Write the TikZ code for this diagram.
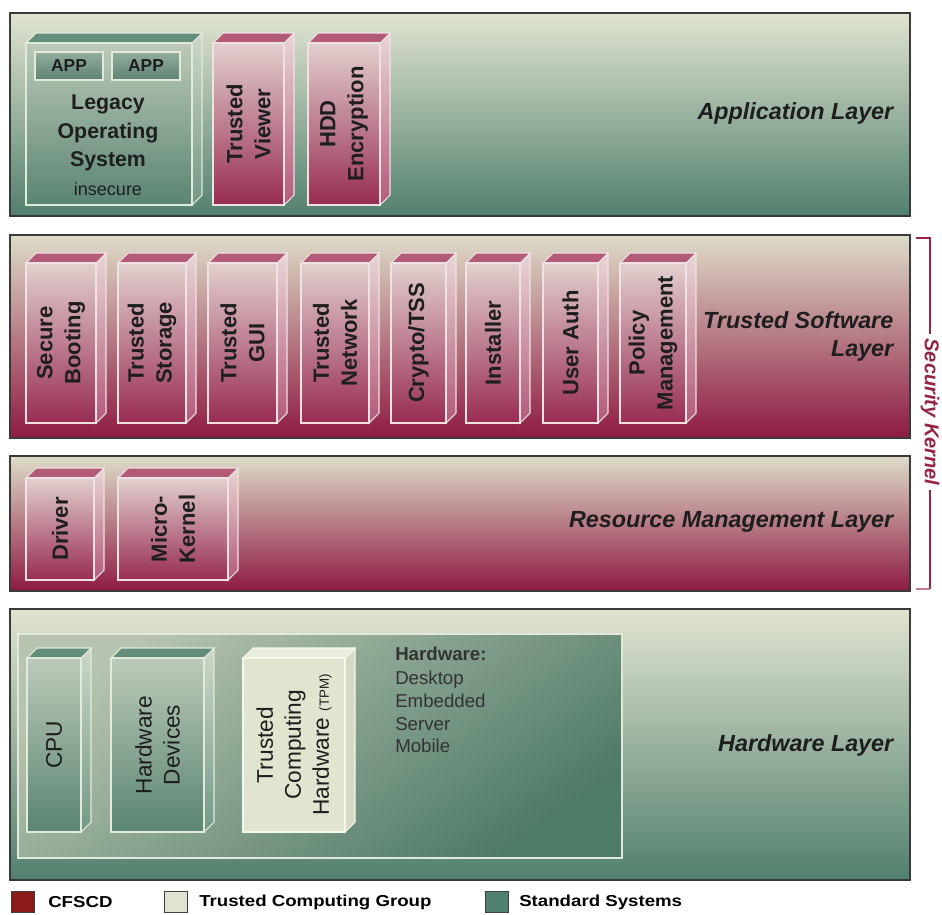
\documentclass[tikz,border=0pt]{standalone}
\usepackage{fontspec}
\setmainfont{Liberation Sans}
\definecolor{laydraw}{HTML}{3A3A3A}
\definecolor{glTop}{HTML}{E0E4D0}
\definecolor{glBot}{HTML}{52806E}
\definecolor{rlTop}{HTML}{DEDCC8}
\definecolor{rlBot}{HTML}{8E1A42}
\definecolor{rfTop}{HTML}{E2D0CE}
\definecolor{rfBot}{HTML}{982C52}
\definecolor{rTopFace}{HTML}{B25A76}
\definecolor{rsTop}{HTML}{E8D6D6}
\definecolor{rsBot}{HTML}{B4587A}
\definecolor{rEdge}{HTML}{F0E2E2}
\definecolor{gfTop}{HTML}{BCCAB8}
\definecolor{gfBot}{HTML}{5A8472}
\definecolor{gTopFace}{HTML}{628D7B}
\definecolor{gsTop}{HTML}{CCD8C8}
\definecolor{gsBot}{HTML}{739886}
\definecolor{gEdge}{HTML}{E2EADA}
\definecolor{tFront}{HTML}{E1E4CE}
\definecolor{tTopFace}{HTML}{EAEDDC}
\definecolor{tSide}{HTML}{D6DAC2}
\definecolor{tEdge}{HTML}{F6F8EE}
\definecolor{appTop}{HTML}{93AD9E}
\definecolor{appBot}{HTML}{5D8272}
\definecolor{innerTop}{HTML}{B6C4AF}
\definecolor{innerBot}{HTML}{4E7A68}
\definecolor{innerEdge}{HTML}{E2E8DA}
\definecolor{skred}{HTML}{962444}
\definecolor{sklight}{HTML}{C87A92}
\definecolor{txt}{HTML}{1E1E1E}
\definecolor{legred}{HTML}{8B1A1A}
\definecolor{leglight}{HTML}{DFE3CF}
\definecolor{leggreen}{HTML}{4F8070}
\newcommand\boxfont{\fontsize{16.5}{21}\selectfont\bfseries}
\newcommand\hwfont{\fontsize{17}{21}\selectfont}
\newcommand\tdcube[7]{%
  \path[#2side] (#5,#4) -- (#5+10,#4-10) -- (#5+10,#6-10) -- (#5,#6) -- cycle;
  \path[#2top] (#3,#4) -- (#3+10,#4-10) -- (#5+10,#4-10) -- (#5,#4) -- cycle;
  \path[#2front] (#3,#4) rectangle (#5,#6);
  \node[#2text] (#1) at ({(#3+#5)/2},{(#4+#6)/2}) {#7};
}
\tikzset{
  lay/.style={draw=laydraw, line width=1.5pt},
  greenlayer/.style={lay, top color=glTop, bottom color=glBot},
  redlayer/.style={lay, top color=rlTop, bottom color=rlBot},
  redfront/.style={draw=rEdge, line width=0.8pt, top color=rfTop, bottom color=rfBot},
  redtop/.style={draw=rEdge, line width=0.8pt, fill=rTopFace},
  redside/.style={draw=rEdge, line width=0.8pt, top color=rsTop, bottom color=rsBot},
  redtext/.style={rotate=90, align=center, font=\boxfont, text=txt},
  greenfront/.style={draw=gEdge, line width=0.8pt, top color=gfTop, bottom color=gfBot},
  greentop/.style={draw=gEdge, line width=0.8pt, fill=gTopFace},
  greenside/.style={draw=gEdge, line width=0.8pt, top color=gsTop, bottom color=gsBot},
  greentext/.style={rotate=90, align=center, font=\hwfont, text=txt},
  tcgfront/.style={draw=tEdge, line width=0.8pt, fill=tFront},
  tcgtop/.style={draw=tEdge, line width=0.8pt, fill=tTopFace},
  tcgside/.style={draw=tEdge, line width=0.8pt, fill=tSide},
  tcgtext/.style={rotate=90, align=center, font=\hwfont, text=txt},
  laylabel/.style={anchor=east, align=right, font=\fontsize{17.5}{21}\selectfont\bfseries\itshape, text=txt},
  appbox/.style={draw=gEdge, line width=1pt, top color=appTop, bottom color=appBot,
    minimum width=51pt, minimum height=21pt, inner sep=0pt, font=\fontsize{13}{15}\selectfont\bfseries, text=txt},
  skline/.style={draw=skred, line width=1.5pt},
  sklightline/.style={draw=sklight, line width=1.5pt},
  sktext/.style={rotate=-90, font=\fontsize{15}{18}\selectfont\bfseries\itshape, text=skred, inner sep=3pt},
  legsq/.style={draw=black!75, line width=1pt, minimum width=17pt, minimum height=16pt, inner sep=0pt},
  legtext/.style={anchor=west, font=\fontsize{14}{16}\selectfont\bfseries, text=black, inner sep=0pt},
}
\begin{document}
\begin{tikzpicture}[x=0.75pt,y=-0.75pt]
\useasboundingbox[fill=white] (0,0) rectangle (942,914);

% ---------- Application layer ----------
\path[greenlayer] (10,13) rectangle (910,216);
\tdcube{legacy}{green}{26}{43}{192}{205}{}
\node[appbox] (app1) at (69,66) {APP};
\node[appbox] (app2) at (146,66) {APP};
\node[font=\fontsize{16}{21.5}\selectfont\bfseries, align=center, text=txt] (legacytxt) at (108,133) {Legacy\\Operating\\System};
\node[font=\fontsize{13.5}{16}\selectfont, text=txt] (insecure) at (108,189) {insecure};
\tdcube{viewer}{red}{213}{43}{284}{205}{Trusted\\Viewer}
\tdcube{hdd}{red}{308}{43}{380}{205}{HDD\\Encryption}
\node[laylabel] (applabel) at (898,113) {Application Layer};

% ---------- Trusted software layer ----------
\path[redlayer] (10,235) rectangle (910,438);
\tdcube{secure}{red}{26}{263}{96}{423}{Secure\\Booting}
\tdcube{storage}{red}{118}{263}{186}{423}{Trusted\\Storage}
\tdcube{gui}{red}{208}{263}{277}{423}{Trusted\\GUI}
\tdcube{network}{red}{301}{263}{369}{423}{Trusted\\Network}
\tdcube{crypto}{red}{391}{263}{446}{423}{Crypto/TSS}
\tdcube{installer}{red}{466}{263}{520}{423}{Installer}
\tdcube{userauth}{red}{543}{263}{598}{423}{User Auth}
\tdcube{policy}{red}{620}{263}{686}{423}{Policy\\Management}
\node[laylabel] (tslabel) at (898,336) {Trusted Software\\Layer};

% ---------- Resource management layer ----------
\path[redlayer] (10,456) rectangle (910,591);
\tdcube{driver}{red}{26}{478}{94}{580}{Driver}
\tdcube{micro}{red}{118}{478}{228}{580}{Micro-\\Kernel}
\node[laylabel] (rmlabel) at (898,522) {Resource Management Layer};

% ---------- Hardware layer ----------
\path[greenlayer] (10,609) rectangle (910,880);
\path[draw=innerEdge, line width=1.5pt, top color=innerTop, bottom color=innerBot, shading angle=35] (18,634) rectangle (622,858);
\tdcube{cpu}{green}{27}{658}{81}{832}{CPU}
\tdcube{hwdev}{green}{111}{658}{204}{832}{Hardware\\Devices}
\tdcube{tch}{tcg}{243}{658}{345}{832}{Trusted\\Computing\\Hardware {\fontsize{10}{12}\selectfont(TPM)}}
\node[anchor=north west, align=left, font=\fontsize{14}{17}\selectfont, text=black!80, inner sep=0pt] (hwlist) at (395,647)
  {\textbf{Hardware:}\\[1pt]Desktop\\Embedded\\Server\\Mobile};
\node[laylabel] (hwlabel) at (898,745) {Hardware Layer};

% ---------- Security kernel bracket ----------
\coordinate (skTop) at (916,238);
\coordinate (skBot) at (916,589);
\node[sktext] (sk) at (930,412) {Security Kernel};
\draw[skline] (skTop) -| (sk.west);
\draw[skline] (sk.east) -- (sk.east |- skBot);
\draw[sklightline] (skBot) -- (sk.east |- skBot);

% ---------- Legend ----------
\node[legsq, fill=legred] (lg1) at (23,902) {};
\node[legtext] (lt1) at (48,902) {\scalebox{1}[0.85]{CFSCD}};
\node[legsq, fill=leglight] (lg2) at (176,902) {};
\node[legtext] (lt2) at (199,902) {\scalebox{1}[0.85]{Trusted Computing Group}};
\node[legsq, fill=leggreen] (lg3) at (497,902) {};
\node[legtext] (lt3) at (519,902) {\scalebox{1}[0.85]{Standard Systems}};
\end{tikzpicture}
\end{document}
